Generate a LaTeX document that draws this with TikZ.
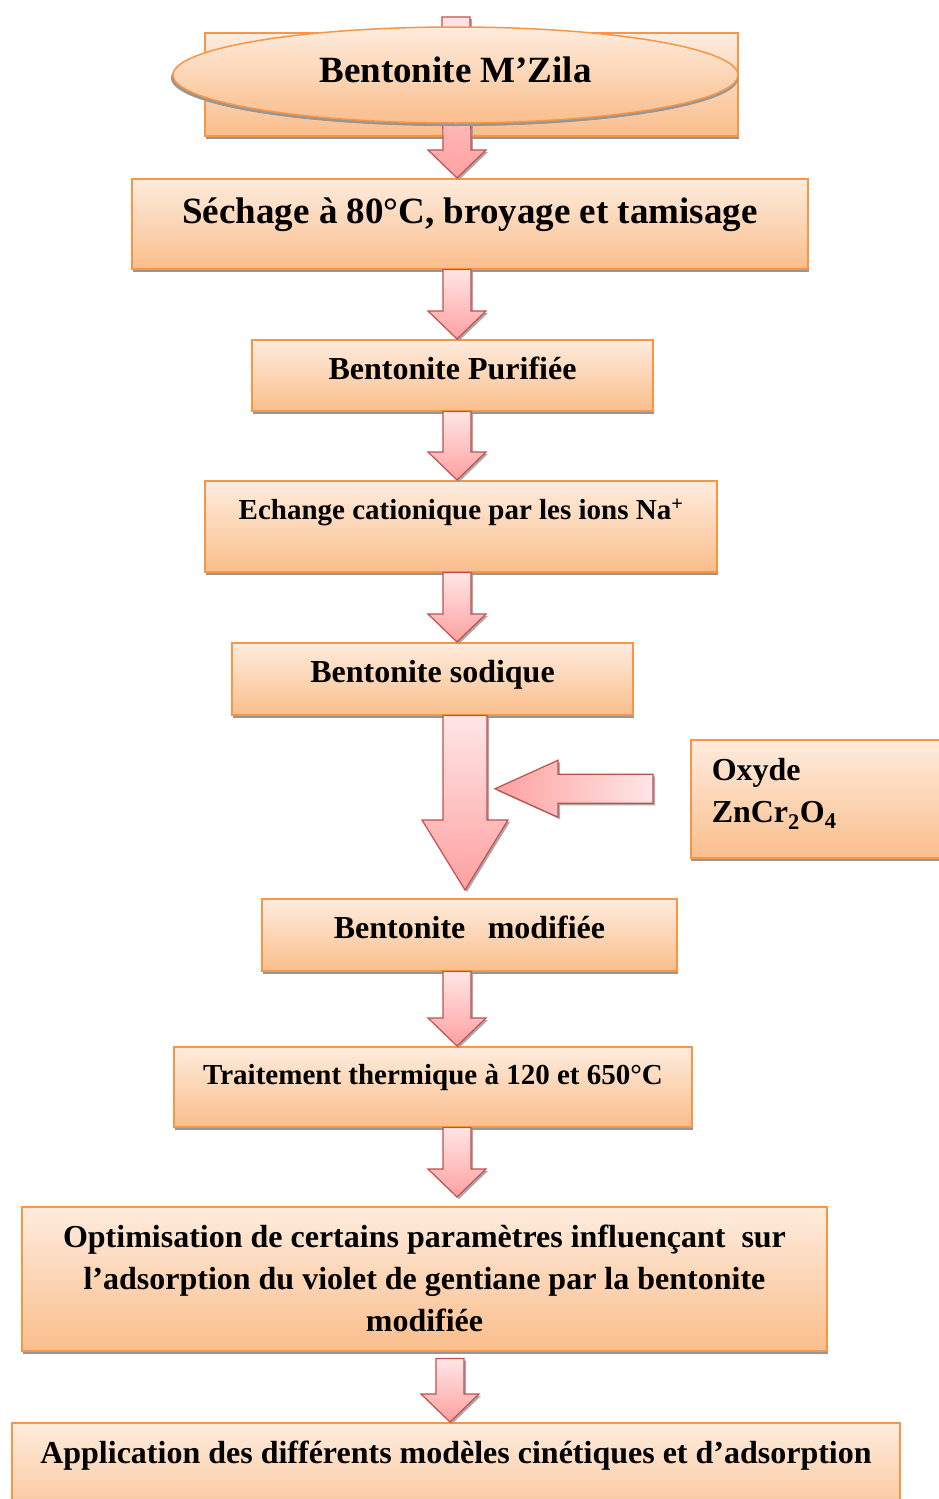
\documentclass[tikz,border=0pt]{standalone}
\usepackage{fontspec}
\setmainfont{Liberation Serif}
\usepackage{xcolor}
\usepackage{tikz}
\usetikzlibrary{shapes.geometric,shadows,calc}

\definecolor{boxline}{RGB}{247,150,70}
\definecolor{boxtop}{RGB}{254,236,222}
\definecolor{boxbot}{RGB}{250,190,140}
\definecolor{arrline}{RGB}{192,80,77}
\definecolor{arrtop}{RGB}{255,230,230}
\definecolor{arrbot}{RGB}{255,160,160}
\definecolor{shadegray}{RGB}{150,150,150}

\tikzset{
  box/.style={draw=boxline, line width=1.5pt, top color=boxtop, bottom color=boxbot,
    inner xsep=0pt, inner ysep=0pt, anchor=north,
    drop shadow={shadow xshift=0.5pt, shadow yshift=-3pt, fill=shadegray, opacity=1}},
  barrow/.style={draw=arrline, line width=1.2pt, top color=arrtop, bottom color=arrbot,
    line join=miter,
    drop shadow={shadow xshift=2pt, shadow yshift=-2pt, fill=shadegray, opacity=0.8}},
  txtbig/.style={font=\bfseries\fontsize{37}{44}\selectfont},
  txtmid/.style={font=\bfseries\fontsize{32}{42}\selectfont},
  txtsmall/.style={font=\bfseries\fontsize{29}{36}\selectfont},
}

% block arrow pointing down, from #1 to the tip #2
\newcommand{\blockdown}[2]{%
  \draw[barrow] ($(#1)+(-14,0)$) -- ($(#2)+(-14,-28)$) -- ($(#2)+(-29,-28)$) -- (#2)
    -- ($(#2)+(29,-28)$) -- ($(#2)+(14,-28)$) -- ($(#1)+(14,0)$) -- cycle;}

\begin{document}
\begin{tikzpicture}[x=1pt, y=-1pt]
  \useasboundingbox (0,0) rectangle (938,1499);
  \coordinate (axis) at (457,0);
  \coordinate (axisb) at (450,0);
  \coordinate (bigx) at (465,0);

  \node[box, minimum width=533pt, minimum height=103pt] (back) at (471.5,32) {};
  \node[box, txtbig, minimum width=676pt, text height=45pt, text depth=45pt] (sechage) at (470,178)
    {Séchage à 80°C, broyage et tamisage};
  \node[box, txtmid, minimum width=401pt, text height=40pt, text depth=31pt] (purif) at (452.5,339)
    {Bentonite Purifiée};
  \node[box, txtsmall, minimum width=512pt, text height=39pt, text depth=52pt] (echange) at (461,480)
    {Echange cationique par les ions Na\textsuperscript{+}};
  \node[box, txtmid, minimum width=401pt, text height=40pt, text depth=32pt] (sodique) at (432.5,642)
    {Bentonite sodique};
  \node[box, txtmid, anchor=north west, text width=225pt, inner xsep=21pt, align=left,
    text height=41pt, text depth=77pt] (oxyde) at (690,739)
    {Oxyde\\ZnCr\textsubscript{2}O\textsubscript{4}};
  \node[box, txtmid, minimum width=415pt, text height=40pt, text depth=32pt] (modif) at (469.5,898)
    {Bentonite\hspace{0.7em}modifiée};
  \node[box, txtsmall, minimum width=518pt, text height=38pt, text depth=42pt] (trait) at (433,1046)
    {Traitement thermique à 120 et 650°C};
  \node[box, txtmid, minimum width=805pt, align=center, text height=125pt, text depth=19pt] (optim) at (424.5,1206)
    {Optimisation de certains paramètres influençant\ \ sur\\
     l’adsorption du violet de gentiane par la bentonite\\
     modifiée};
  \node[box, txtmid, minimum width=888pt, text height=41pt, text depth=70pt] (appl) at (456,1422)
    {Application des différents modèles cinétiques et d’adsorption\hspace{14pt}};

  % top arrow, under the ellipse
  \coordinate (stub) at (456,17);
  \blockdown{stub}{axis |- sechage.north}
  \node[box, txtbig, ellipse, anchor=center, minimum width=565pt, minimum height=96pt,
    text height=26pt, text depth=12pt,
    drop shadow={shadow xshift=-2pt, shadow yshift=-3pt, fill=shadegray, opacity=1}] (zila) at (455.5,75)
    {Bentonite M’Zila};

  \blockdown{axis |- sechage.south}{axis |- purif.north}
  \blockdown{axis |- purif.south}{axis |- echange.north}
  \blockdown{axis |- echange.south}{axis |- sodique.north}

  % large arrow and the side feed
  \coordinate (bigtip) at ($(bigx |- modif.north)+(0,-8)$);
  \draw[barrow] ($(bigx |- sodique.south)+(-22,0)$) -- ($(bigtip)+(-22,-70)$) -- ($(bigtip)+(-43,-70)$)
    -- (bigtip) -- ($(bigtip)+(43,-70)$) -- ($(bigtip)+(22,-70)$) -- ($(bigx |- sodique.south)+(22,0)$) -- cycle;
  \coordinate (feed) at ($(oxyde.west)+(-37,-10)$);
  \coordinate (feedtip) at ($(bigtip |- feed)+(30,0)$);
  \draw[barrow, left color=arrbot, right color=arrtop] ($(feed)+(0,-14.5)$) -- ($(feedtip)+(63,-14.5)$)
    -- ($(feedtip)+(63,-28.5)$) -- (feedtip) -- ($(feedtip)+(63,28.5)$) -- ($(feedtip)+(63,14.5)$)
    -- ($(feed)+(0,14.5)$) -- cycle;

  \blockdown{axis |- modif.south}{axis |- trait.north}
  \coordinate (optin) at ($(axis |- optim.north)+(0,-9)$);
  \blockdown{axis |- trait.south}{optin}
  \coordinate (optout) at ($(axisb |- optim.south)+(0,7)$);
  \blockdown{optout}{axisb |- appl.north}
\end{tikzpicture}
\end{document}
